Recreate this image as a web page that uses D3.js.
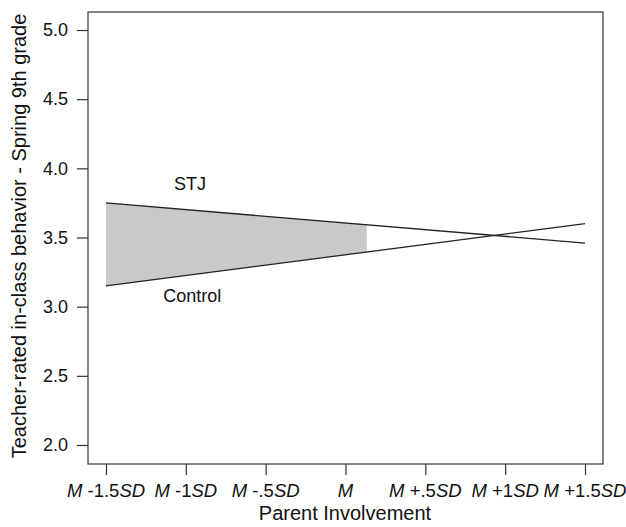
<!DOCTYPE html>
<html><head><meta charset="utf-8">
<script src="https://cdn.jsdelivr.net/npm/d3@7"></script>
<style>body{margin:0;background:#fff}svg{display:block}text{font-family:"Liberation Sans",Arial,sans-serif;fill:#111}</style>
</head><body>
<script>
// Data
const xTicks = [-1.5, -1, -0.5, 0, 0.5, 1, 1.5];
const xTickLabels = [["M"," -1.5","SD"],["M"," -1","SD"],["M"," -.5","SD"],["M","",""],["M"," +.5","SD"],["M"," +1","SD"],["M"," +1.5","SD"]];
const yTicks = [2.0, 2.5, 3.0, 3.5, 4.0, 4.5, 5.0];
const stjLine = [{x:-1.5, y:3.75},{x:1.5, y:3.46}];
const controlLine = [{x:-1.5, y:3.15},{x:1.5, y:3.60}];
const regionEnd = 0.133;
const seriesLabels = [{name:"STJ", x:-0.974, y:3.844},{name:"Control", x:-0.96, y:3.036}];

const W=626,H=527;
const svg=d3.select("body").append("svg").attr("width",W).attr("height",H);
const box={l:88,r:603,t:12,b:464};
const x=d3.scaleLinear().domain([-1.5,1.5]).range([106,585]);
const y=d3.scaleLinear().domain([2,5]).range([445,30]);

const interp=(ln,xv)=>ln[0].y+(ln[1].y-ln[0].y)*(xv-ln[0].x)/(ln[1].x-ln[0].x);

// shaded region
const pts=[[ -1.5, interp(stjLine,-1.5)],[regionEnd, interp(stjLine,regionEnd)],[regionEnd, interp(controlLine,regionEnd)],[-1.5, interp(controlLine,-1.5)]];
svg.append("path").attr("d",d3.line().x(d=>x(d[0])).y(d=>y(d[1]))(pts)+"Z").attr("fill","#c8c9cb");

const line=d3.line().x(d=>x(d.x)).y(d=>y(d.y));
[stjLine,controlLine].forEach(l=>svg.append("path").attr("d",line(l)).attr("fill","none").attr("stroke","#222").attr("stroke-width",1.3));

// box
svg.append("rect").attr("x",box.l).attr("y",box.t).attr("width",box.r-box.l).attr("height",box.b-box.t).attr("fill","none").attr("stroke","#333").attr("stroke-width",1.2);

// y axis
const ya=svg.append("g").attr("transform",`translate(${box.l},0)`).call(d3.axisLeft(y).tickValues(yTicks).tickFormat(d3.format(".1f")).tickSize(11).tickPadding(9));
ya.attr("font-size",null).attr("font-family",null);
ya.select(".domain").remove();
ya.selectAll("line").attr("stroke","#333").attr("stroke-width",1.2);
ya.selectAll("text").style("font-size","18px").attr("fill","#111");

// x axis
const xa=svg.append("g").attr("transform",`translate(0,${box.b})`).call(d3.axisBottom(x).tickValues(xTicks).tickSize(11).tickFormat(""));
xa.select(".domain").remove();
xa.selectAll("line").attr("stroke","#333").attr("stroke-width",1.2);
xTicks.forEach((v,i)=>{
  const lb=xTickLabels[i];
  const t=svg.append("text").attr("x",x(v)).attr("y",497).attr("text-anchor","middle").style("font-size","18.5px");
  t.append("tspan").attr("font-style","italic").text(lb[0]);
  if(lb[1]) t.append("tspan").text(lb[1]);
  if(lb[2]) t.append("tspan").attr("font-style","italic").text(lb[2]);
});

// series labels
seriesLabels.forEach(s=>svg.append("text").attr("x",x(s.x)).attr("y",y(s.y)).attr("text-anchor","middle").style("font-size","18px").text(s.name));

// titles
svg.append("text").attr("x",345).attr("y",520).attr("text-anchor","middle").style("font-size","20px").text("Parent Involvement");
svg.append("text").attr("transform","translate(26,236) rotate(-90)").attr("text-anchor","middle").style("font-size","20px").text("Teacher-rated in-class behavior - Spring 9th grade");
</script>
</body></html>
